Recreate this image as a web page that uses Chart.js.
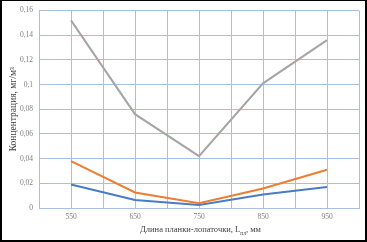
<!DOCTYPE html>
<html>
<head>
<meta charset="utf-8">
<script src="https://cdn.jsdelivr.net/npm/chart.js@4"></script>
<style>
	body { margin: 0; background: #fff; }
	#wrap { position: relative; width: 367px; height: 242px; }
	#frame { position: absolute; left: 0; top: 0; width: 367px; height: 242px; box-sizing: border-box; border: 2px solid #000; border-top-width: 1px; pointer-events: none; }
	#xtitle { position: absolute; left: 17px; width: 367px; top: 224px; line-height: 11px; text-align: center; font-family: "Liberation Serif", serif; font-size: 8.5px; color: #404040; }
	#xtitle sub { font-size: 5.5px; }
</style>
</head>
<body>
<div id="wrap">
	<canvas id="mycanvas" width="367" height="242"></canvas>
	<div id="xtitle">Длина планки-лопаточки, L<sub>пл</sub>, мм</div>
	<div id="frame"></div>
</div>
<script>
var lengths = [550, 650, 750, 850, 950];
var seriesBlue = [0.019, 0.0065, 0.0024, 0.011, 0.017];
var seriesOrange = [0.038, 0.0126, 0.0038, 0.0158, 0.031];
var seriesGray = [0.152, 0.076, 0.042, 0.101, 0.136];
var yTicks = [0, 0.02, 0.04, 0.06, 0.08, 0.1, 0.12, 0.14, 0.16];

function pts(vals) {
	var out = [];
	for (var i in lengths) {
		out.push({x: lengths[i], y: vals[i]});
	}
	return out;
}

var gridColor = '#a7c0e0';
var tickFont = {family: 'Liberation Serif', size: 7.5};

var ctx = document.getElementById('mycanvas');
var chart = new Chart(ctx, {
	type: 'line',
	data: {
		datasets: [
			{label: 'gray', data: pts(seriesGray), borderColor: '#a5a5a5', borderWidth: 2, pointRadius: 0, tension: 0},
			{label: 'orange', data: pts(seriesOrange), borderColor: '#ed7d31', borderWidth: 2, pointRadius: 0, tension: 0},
			{label: 'blue', data: pts(seriesBlue), borderColor: '#4a7cc4', borderWidth: 2, pointRadius: 0, tension: 0}
		]
	},
	options: {
		responsive: false,
		animation: false,
		layout: {padding: {top: 8, right: 8, left: 0, bottom: 0}},
		plugins: {legend: {display: false}, tooltip: {enabled: false}},
		scales: {
			x: {
				type: 'linear',
				min: 500, max: 1000,
				afterFit: function(s) { s.height = 34; },
				grid: {color: gridColor, lineWidth: 1, drawTicks: false},
				border: {color: gridColor},
				ticks: {
					stepSize: 50, autoSkip: false, padding: 5,
					color: '#7f7f7f', font: tickFont,
					callback: function(v) { return lengths.indexOf(v) >= 0 ? String(v) : ''; }
				}
			},
			y: {
				min: 0, max: 0.16,
				afterFit: function(s) { s.width = 39; },
				afterBuildTicks: function(s) { s.ticks = yTicks.map(function(v) { return {value: v}; }); },
				grid: {color: gridColor, lineWidth: 1, drawTicks: false},
				border: {color: gridColor},
				title: {display: true, text: 'Концентрация, мг/м³', color: '#404040', font: {family: 'Liberation Serif', size: 9.5}, padding: {top: 8, bottom: 0}},
				ticks: {
					padding: 6, color: '#7f7f7f', font: tickFont,
					callback: function(v) { return String(Math.round(v * 100) / 100).replace('.', ','); }
				}
			}
		}
	}
});
</script>
</body>
</html>
